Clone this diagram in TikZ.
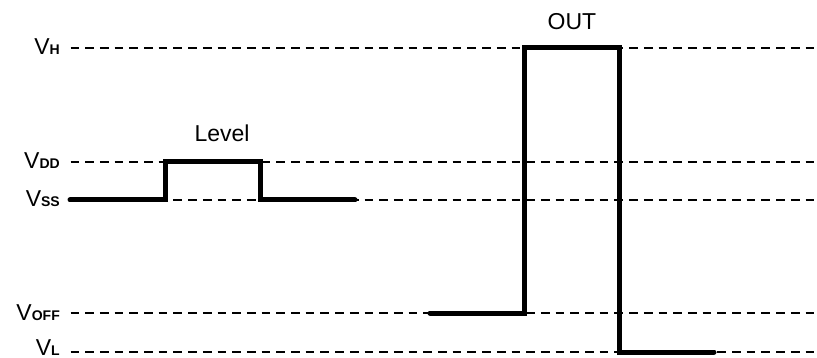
\documentclass[tikz,border=0pt]{standalone}
\usepackage{fontspec}
\setmainfont{Liberation Sans}
\usetikzlibrary{positioning}
\newcommand\Vsub[1]{V{\fontsize{14}{14}\selectfont\bfseries #1}}

\begin{document}
\begin{tikzpicture}[x=1pt,y=-1pt,line join=miter]
    \tikzstyle{level}=[draw=black, dash pattern=on 8.7pt off 6pt, line width=1.8pt]
    \tikzstyle{wave}=[draw=black, line width=5pt, line cap=round]
    \tikzstyle{lbl}=[anchor=base east, inner sep=0pt, font=\fontsize{23}{23}\selectfont]
    \tikzstyle{ttl}=[anchor=base, inner sep=0pt, font=\fontsize{23}{23}\selectfont]
    \useasboundingbox (0,0) rectangle (817,358);

    % voltage levels
    \foreach \nm/\y/\dy/\sub in {h/48/7/H, dd/162/7/DD, ss/200/7/SS, off/313/7/OFF, l/352/3/L} {
        \node[lbl] (v\nm) at (60,\y+\dy) {\Vsub{\sub}};
        \coordinate (a\nm) at (70.5,\y);
        \coordinate (b\nm) at (815,\y);
        \draw[level] (a\nm) -- (b\nm);
    }

    \node[ttl] (level) at (222,142) {Level};
    \node[ttl] (out)   at (572,30)  {OUT};

    % waveforms
    \draw[wave] (70,200) -- (165,200) -- (165,162) -- (260,162) -- (260,200) -- (355,200);
    \draw[wave] (430,313) -- (524,313) -- (524,48) -- (619,48) -- (619,352) -- (714,352);
\end{tikzpicture}
\end{document}
